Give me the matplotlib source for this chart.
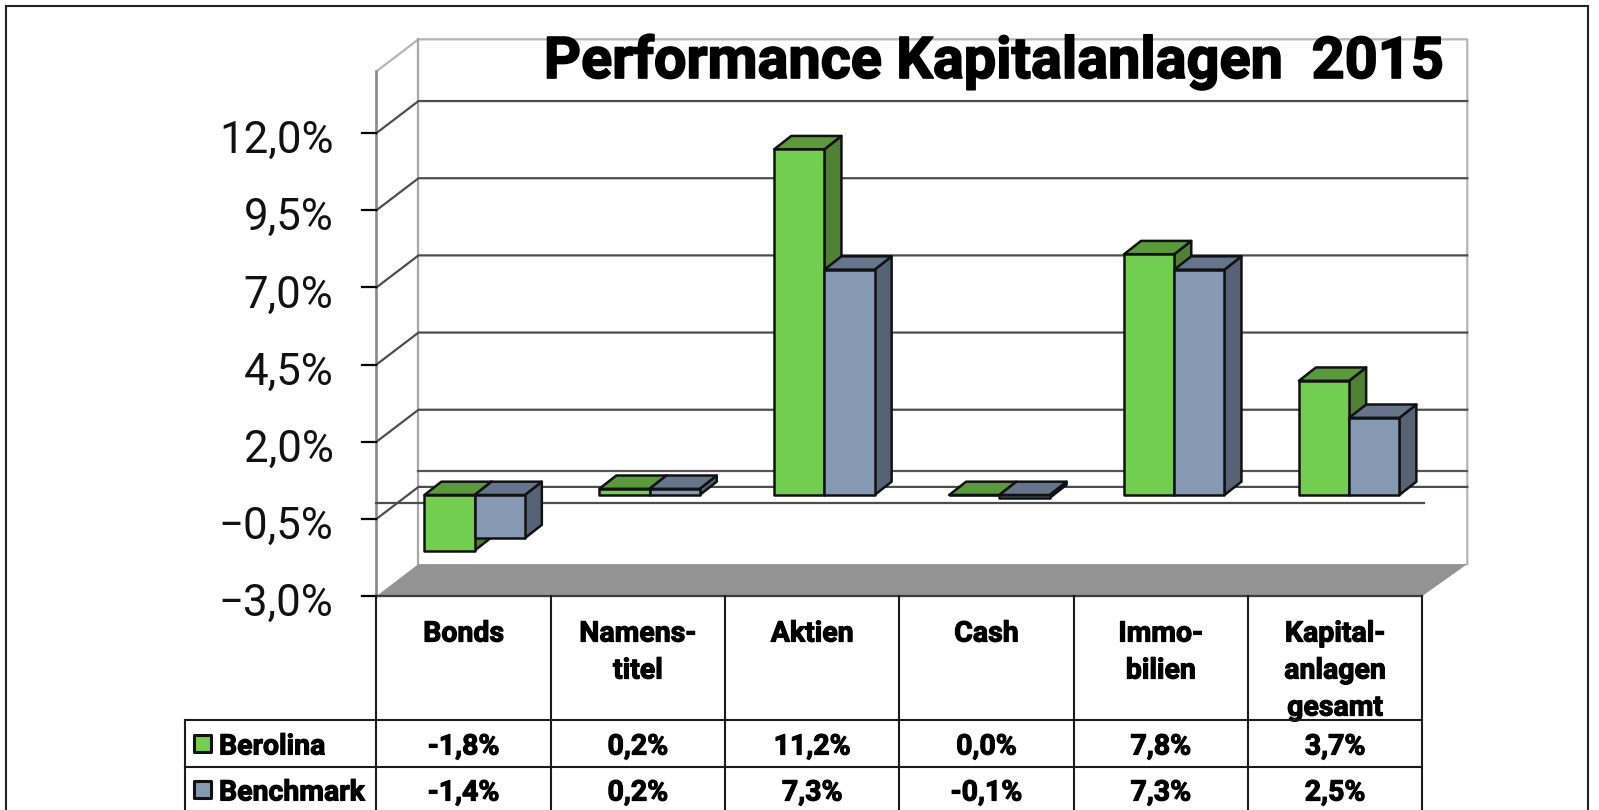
import matplotlib
matplotlib.use("Agg")
import matplotlib.pyplot as plt
import matplotlib.patheffects as pe
from matplotlib.patches import Polygon, Rectangle

# data
categories = ["Bonds", "Namens-\ntitel", "Aktien", "Cash", "Immo-\nbilien", "Kapital-\nanlagen\ngesamt"]
berolina = [-1.8, 0.2, 11.2, 0.0, 7.8, 3.7]
benchmark = [-1.4, 0.2, 7.3, -0.1, 7.3, 2.5]
y_ticks = [-3.0, -0.5, 2.0, 4.5, 7.0, 9.5, 12.0]
y_top = 14.0
title = "Performance Kapitalanlagen  2015"

green = ["#72cd50", "#4f8033", "#5a9a3c"]
blue = ["#8599b3", "#566376", "#66758c"]

W, H = 1599, 810
fig = plt.figure(figsize=(W / 100, H / 100), dpi=100)

# overlay in pixels for frame and table, chart axes underneath
ax = fig.add_axes([0, 0, 1, 1])
ax.set_xlim(-2.66, 6.514)
ax.set_ylim(-9.93, 16.31)
ax.axis("off")
over = fig.add_axes([0, 0, 1, 1])
over.set_xlim(0, W)
over.set_ylim(H, 0)
over.axis("off")
over.patch.set_alpha(0)

x_unit = 174.3
y_unit = 30.87
x0, x1 = -0.5, 5.5
wall_l = 42 / x_unit
wall_r = 45 / x_unit
wall_up = 32 / y_unit
bar_dx = 11 / x_unit
bar_dy = 8.5 / y_unit
bar_w = 50.2 / x_unit
bar_pitch = 1.0035
dep_x = 17 / x_unit
dep_y = 13.3 / y_unit
low = y_ticks[0]

# back wall and left wall
ax.plot([x0, x0, x0 + wall_l, x1 + wall_r, x1 + wall_r],
        [low, y_top, y_top + wall_up, y_top + wall_up, low + wall_up],
        color="#b5b5b5", lw=1.6, zorder=2)
ax.plot([x0, x0], [low, y_top], color="#8a8a8a", lw=1.8, zorder=2)
ax.plot([x0 + wall_l, x0 + wall_l], [low + wall_up, y_top + wall_up], color="#a8a8a8", lw=1.6, zorder=2)

# gridlines
for v in y_ticks[1:]:
    ax.plot([x0, x0 + wall_l, x1 + wall_r], [v, v + wall_up, v + wall_up], color="#4d4d4d", lw=1.6, zorder=2)
ax.plot([x0 + wall_l, x1 + wall_r], [wall_up, wall_up], color="#555555", lw=1.6, zorder=2)
for v in y_ticks:
    ax.plot([x0 - 14 / x_unit, x0], [v, v], color="black", lw=1.6, zorder=3)

# floor
ax.add_patch(Polygon([(x0, low), (x0 + wall_l, low + wall_up), (x1 + wall_r, low + wall_up), (x1, low)],
                     facecolor="#939393", edgecolor="none", zorder=2))
ax.plot([x0, x1], [low, low], color="#3c3c3c", lw=1.6, zorder=3)

# zero line
ax.plot([x0, x1 + 2 / x_unit], [0, 0], color="#4d4d4d", lw=1.6, zorder=3)


def bar3d(left, val, cols, z):
    xl = left + bar_dx
    xr = xl + bar_w
    base = bar_dy
    top = val + base
    hi = max(base, top)
    lo = min(base, top)
    side = [(xr, lo), (xr + dep_x, lo + dep_y), (xr + dep_x, hi + dep_y), (xr, hi)]
    roof = [(xl, hi), (xl + dep_x, hi + dep_y), (xr + dep_x, hi + dep_y), (xr, hi)]
    ax.add_patch(Polygon(side, facecolor=cols[1], edgecolor="#111111", lw=1.8, joinstyle="round", zorder=z))
    ax.add_patch(Polygon(roof, facecolor=cols[2], edgecolor="#111111", lw=1.8, joinstyle="round", zorder=z))
    ax.add_patch(Rectangle((xl, lo), bar_w, hi - lo, facecolor=cols[0], edgecolor="#111111", lw=1.8,
                           joinstyle="round", zorder=z + 0.1))


for i in range(len(categories)):
    bar3d(i * bar_pitch - bar_w, berolina[i], green, 4 + i)
    bar3d(i * bar_pitch, benchmark[i], blue, 4.5 + i)

# y labels
for v in y_ticks:
    ax.text(x0 - 43 / x_unit, v - 8 / y_unit, f"{v:.1f}%".replace(".", ",").replace("-", "\u2212"),
            ha="right", va="center", family="Roboto", fontsize=31.5, color="#111111", zorder=6)

# title
heavy = [pe.withStroke(linewidth=1.2, foreground="black")]
over.text(1444, 62, title, ha="right", va="center", family="Roboto", fontweight="bold", fontsize=41.5,
          color="black", path_effects=heavy)

# table, lines use the same category boundaries as the chart
for k in range(len(categories) + 1):
    ax.plot([x0 + k, x0 + k], [low, -9.93], color="#1a1a1a", lw=1.5, zorder=3)
over.plot([185, 185], [720, 810], color="#1a1a1a", lw=1.5)
over.plot([185, 1422], [720, 720], color="#1a1a1a", lw=1.5)
over.plot([185, 1422], [767, 767], color="#1a1a1a", lw=1.5)

px_row = [747, 793]
thick = [pe.withStroke(linewidth=0.8, foreground="black")]
tbl = dict(ha="center", va="center", family="Roboto", fontweight="bold", fontsize=20.5, color="black",
           path_effects=thick)
for i, cat in enumerate(categories):
    for j, line in enumerate(cat.split("\n")):
        ax.text(i, (503.4 - (634 + j * 37)) / y_unit, line, **tbl)
    ax.text(i, (503.4 - px_row[0]) / y_unit, f"{berolina[i]:.1f}%".replace(".", ","), **tbl)
    ax.text(i, (503.4 - px_row[1]) / y_unit, f"{benchmark[i]:.1f}%".replace(".", ","), **tbl)

# legend in the table
for name, col, y in [("Berolina", green[0], px_row[0]), ("Benchmark", blue[0], px_row[1])]:
    over.add_patch(Rectangle((194, y - 12), 17, 17, facecolor=col, edgecolor="#111111", lw=2.2, joinstyle="round"))
    over.text(219, y, name, ha="left", va="center", family="Roboto", fontweight="bold", fontsize=20.5,
              color="black", path_effects=thick)

# outer frame
over.plot([6, 6], [H, 6], color="#222222", lw=1.5)
over.plot([6, 1588], [6, 6], color="#222222", lw=1.5)
over.plot([1588, 1588], [6, H], color="#222222", lw=1.5)

fig.savefig("out.png", dpi=100, facecolor="white")
